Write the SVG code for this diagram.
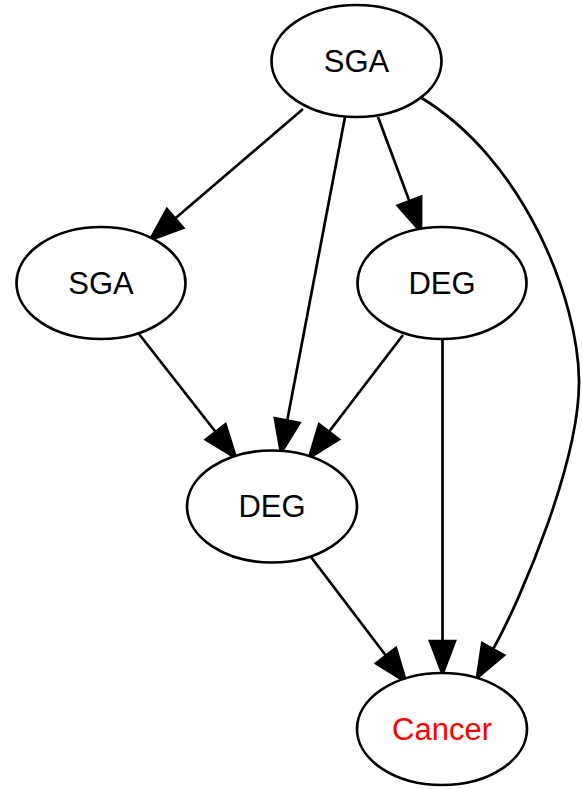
<svg xmlns="http://www.w3.org/2000/svg" width="582" height="789" viewBox="0 0 582 789">
  <style>
    .node ellipse { fill: #ffffff; stroke: #000000; stroke-width: 2.7; }
    .node text { font-family: "Liberation Sans", Arial, sans-serif; font-size: 31px; text-anchor: middle; fill: #000000; }
    .node text.red { fill: #ff0000; }
    .edge path { fill: none; stroke: #000000; stroke-width: 2.7; }
    .edge polygon { fill: #000000; stroke: #000000; stroke-width: 2.7; stroke-linejoin: miter; }
  </style>
  <rect width="582" height="789" fill="#ffffff"/>

  <g id="edges">
    <!-- SGA (top) -> SGA (left) -->
    <g class="edge" id="e_sga_sga">
      <path d="M303,109 L175.1,218.5"/>
      <polygon points="167,209 150,240 183.2,228"/>
    </g>
    <!-- SGA (top) -> DEG (middle) -->
    <g class="edge" id="e_sga_degm">
      <path d="M345,117 L287.2,420.6"/>
      <polygon points="274.9,418.3 281,453 299.5,422.9"/>
    </g>
    <!-- SGA (top) -> DEG (right) -->
    <g class="edge" id="e_sga_degr">
      <path d="M378,117 L409.4,201.1"/>
      <polygon points="397.7,205.5 421,232 421.1,196.7"/>
    </g>
    <!-- SGA (top) -> Cancer -->
    <g class="edge" id="e_sga_cancer">
      <path d="M420,97 C525,160 578,300 579,380 C580,460 522,597 493.1,649.2"/>
      <polygon points="482.2,643.1 477,678 504,655.3"/>
    </g>
    <!-- SGA (left) -> DEG (middle) -->
    <g class="edge" id="e_sgal_degm">
      <path d="M139,334 L215.7,432"/>
      <polygon points="205.8,439.7 236,458 225.5,424.3"/>
    </g>
    <!-- DEG (right) -> DEG (middle) -->
    <g class="edge" id="e_degr_degm">
      <path d="M403,335 L329,431.8"/>
      <polygon points="319.1,424.2 309,458 338.9,439.4"/>
    </g>
    <!-- DEG (right) -> Cancer -->
    <g class="edge" id="e_degr_cancer">
      <path d="M442.5,340 L442.5,641"/>
      <polygon points="430,641 442.5,674 455,641"/>
    </g>
    <!-- DEG (middle) -> Cancer -->
    <g class="edge" id="e_degm_cancer">
      <path d="M311,557 L386,655.7"/>
      <polygon points="376,663.3 406,682 395.9,648.1"/>
    </g>
  </g>

  <g id="n_sga_top" class="node">
    <ellipse cx="356.5" cy="61" rx="85" ry="56"/>
    <text x="356.5" y="71.5">SGA</text>
  </g>
  <g id="n_sga_left" class="node">
    <ellipse cx="101" cy="283" rx="84.5" ry="56"/>
    <text x="101" y="293.5">SGA</text>
  </g>
  <g id="n_deg_right" class="node">
    <ellipse cx="442" cy="283" rx="84.5" ry="56"/>
    <text x="442" y="293.5">DEG</text>
  </g>
  <g id="n_deg_mid" class="node">
    <ellipse cx="272" cy="506.5" rx="85" ry="56"/>
    <text x="272" y="517">DEG</text>
  </g>
  <g id="n_cancer" class="node">
    <ellipse cx="442" cy="729" rx="85" ry="56"/>
    <text class="red" x="442" y="739.5">Cancer</text>
  </g>
</svg>
